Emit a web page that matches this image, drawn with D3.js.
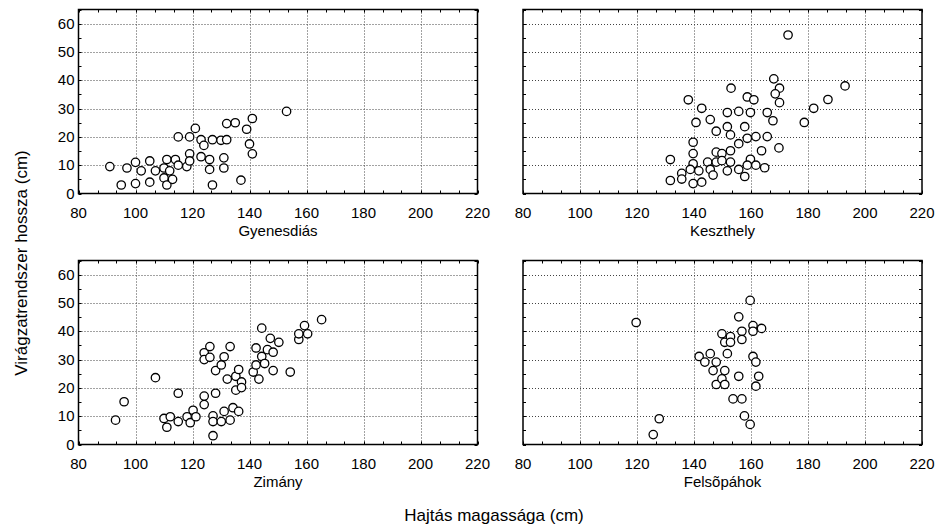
<!DOCTYPE html>
<html>
<head>
<meta charset="utf-8">
<script src="https://cdnjs.cloudflare.com/ajax/libs/d3/7.8.5/d3.min.js"></script>
<style>
  body { margin: 0; background: #fff; }
  svg text { font-family: "Liberation Sans", Arial, sans-serif; fill: #000; }
</style>
</head>
<body>
<script>
// ---------- data: [hajtás magassága, virágzatrendszer hossza] ----------
var gyenesdias = [[91,9.5],[95,3],[97,9],[100,11],[100,3.5],[102,8],[105,11.5],[105,4],[107,8],
  [110,9],[110,5.5],[111,12],[111,3],[112,8],[113,5],[114,12],[115,20],[115,10],[118,9.5],
  [119,20],[119,14],[119,11.5],[121,23],[123,19],[123,13],[124,17],[126,12],[126,8.5],[127,19],
  [127,3],[130,18.8],[131,12.6],[131,9],[132,24.7],[132,19],[135,25],[137,4.7],[139,22.7],
  [140,17.5],[141,26.5],[141,14],[153,29]];

var keszthely = [[173,56],[168,40.5],[170,37.2],[168.5,35.2],[170,32.1],[193,38],[153,37.2],
  [138,33.1],[158.7,34.1],[161,33.1],[142.7,30.1],[187,33.2],[182,30.1],[151.7,28.6],[155.7,29],
  [159.8,28.6],[165.7,28.6],[167.7,25.7],[178.7,25.1],[145.7,26.1],[140.7,25.1],[151.7,23.6],
  [157.8,23.6],[147.8,22],[152.8,20.7],[158.7,19.5],[161.7,20.1],[165.7,20.1],[139.7,18.1],
  [155.7,17.6],[169.8,16.1],[152.8,15.1],[163.7,15.1],[139.7,14.1],[147.8,14.6],[149.8,14.1],
  [131.7,12],[139.7,10.5],[144.8,11.1],[147.8,11.1],[149.8,11.6],[152.8,11.1],[159.8,12.1],
  [158.7,10],[161.7,10],[164.8,9.1],[138.7,8.5],[141.7,8],[145.7,8.5],[151.7,8],[155.7,8.5],
  [135.7,7.1],[146.7,6.5],[157.8,6],[131.7,4.6],[135.7,5.1],[139.7,3.5],[142.7,4]];

var zimany = [[93,8.6],[96,15.1],[107,23.6],[110,9.2],[111,6.1],[112.2,9.8],[115,18.1],[115,8.1],
  [118.1,9.8],[119.2,7.7],[120.2,12.1],[121.2,9.8],[124.1,17.1],[124.1,14.1],[124.1,32.4],
  [124.1,30],[126.1,34.6],[126.1,30.8],[127.2,10.1],[127.2,8.1],[127.2,3.1],[128.1,18.1],
  [128.1,26.1],[130.1,28.1],[130.1,8.1],[131.1,31],[131.1,11.7],[132.2,23.1],[133.2,34.6],
  [133.2,8.6],[134.2,13],[135.2,24.1],[135.2,19.2],[136.2,26.5],[136.2,11.7],[137.2,22.1],
  [137.2,20.1],[141.3,25.6],[142.3,34.1],[142.3,28.1],[143.3,23.1],[144.3,41.1],[144.3,31.1],
  [145.3,28.6],[146.3,33.5],[147.3,37.5],[148.3,32.6],[148.3,26.1],[150.3,36.1],[154.3,25.6],
  [157.3,37.1],[157.3,39.1],[159.3,42],[160.4,39.1],[165.3,44.1]];

var felsopahok = [[119.7,43.1],[125.7,3.5],[127.8,9.1],[141.8,31.1],[143.8,29.1],[145.7,32.1],
  [146.7,26.1],[147.8,29.1],[147.8,21.2],[149.8,39.1],[149.8,23.2],[150.8,36.1],[150.8,26.1],
  [150.8,21.2],[151.7,32.1],[152.8,38.1],[152.8,36.1],[153.7,16.1],[155.7,45.1],[155.7,24.1],
  [156.8,40],[156.8,37.1],[156.8,16.1],[157.7,10.1],[159.7,50.9],[159.7,7.1],[160.7,42],
  [160.7,40],[160.7,31.1],[161.7,29.1],[161.7,20.6],[162.7,24.1],[163.7,41]];

var panelNames = ["Gyenesdiás", "Keszthely", "Zimány", "Felsõpáhok"];
var panelData = [gyenesdias, keszthely, zimany, felsopahok];

var xTicks = [80, 100, 120, 140, 160, 180, 200, 220];
var yTicks = [0, 10, 20, 30, 40, 50, 60];

// ---------- layout ----------
var width = 937, height = 531;
var colLeft = [78.5, 523], rowTop = [9.5, 260.5];
var pw = 399, ph = 184;

var svg = d3.select("body").append("svg")
    .attr("width", width)
    .attr("height", height);

panelData.forEach(function(data, i) {
  var col = i % 2, row = Math.floor(i / 2);
  var x0 = colLeft[col], y0 = rowTop[row];

  var x_scale = d3.scaleLinear().domain([80, 220]).range([x0, x0 + pw]);
  var y_scale = d3.scaleLinear().domain([0, 65]).range([y0 + ph, y0]);

  var g = svg.append("g").attr("class", "panel");

  // dotted grid
  g.selectAll(".gx").data(xTicks.slice(1, -1)).enter().append("line")
    .attr("x1", function(d) { return Math.round(x_scale(d)) + 0.5; })
    .attr("x2", function(d) { return Math.round(x_scale(d)) + 0.5; })
    .attr("y1", y0).attr("y2", y0 + ph)
    .attr("stroke", "#444").attr("stroke-dasharray", "1,2");

  g.selectAll(".gy").data(yTicks.slice(1)).enter().append("line")
    .attr("y1", function(d) { return Math.round(y_scale(d)) + 0.5; })
    .attr("y2", function(d) { return Math.round(y_scale(d)) + 0.5; })
    .attr("x1", x0).attr("x2", x0 + pw)
    .attr("stroke", "#444").attr("stroke-dasharray", "1,2");

  // inward ticks on the frame (minor every 20/3 on x, every 5 on y)
  var xMinor = d3.range(0, 22).map(function(k) { return 80 + k * 20 / 3; });
  g.selectAll(".tx").data(xMinor).enter().append("path")
    .attr("d", function(d) {
      var xx = Math.round(x_scale(d)) + 0.5;
      return "M" + xx + "," + (y0 + ph) + "v-3M" + xx + "," + y0 + "v3";
    })
    .attr("stroke", "#000");

  var yMinor = d3.range(0, 14).map(function(k) { return k * 5; });
  g.selectAll(".ty").data(yMinor).enter().append("path")
    .attr("d", function(d) {
      var yy = Math.round(y_scale(d)) + 0.5;
      return "M" + x0 + "," + yy + "h3M" + (x0 + pw) + "," + yy + "h-3";
    })
    .attr("stroke", "#000");

  // frame
  g.append("rect")
    .attr("x", x0).attr("y", y0).attr("width", pw).attr("height", ph)
    .attr("fill", "none").attr("stroke", "#000").attr("stroke-width", 1.5);

  // points
  g.selectAll(".datapoints").data(data).enter().append("circle")
    .attr("class", "datapoints")
    .attr("cx", function(d) { return x_scale(d[0]); })
    .attr("cy", function(d) { return y_scale(d[1]); })
    .attr("r", 4.2)
    .attr("fill", "#fff")
    .attr("stroke", "#000")
    .attr("stroke-width", 1.3);

  // x tick labels
  g.selectAll(".xl").data(xTicks).enter().append("text")
    .attr("x", function(d) { return x_scale(d); })
    .attr("y", y0 + ph + 24)
    .attr("text-anchor", "middle")
    .style("font-size", "15px")
    .text(function(d) { return d; });

  // y tick labels, left column only
  if (col == 0) {
    g.selectAll(".yl").data(yTicks).enter().append("text")
      .attr("x", x0 - 4)
      .attr("y", function(d) { return y_scale(d) + 5; })
      .attr("text-anchor", "end")
      .style("font-size", "15px")
      .text(function(d) { return d; });
  }

  // panel name
  g.append("text")
    .attr("x", x0 + pw / 2)
    .attr("y", y0 + ph + 42)
    .attr("text-anchor", "middle")
    .style("font-size", "15px")
    .text(panelNames[i]);
});

// axis titles
svg.append("text")
  .attr("x", 494)
  .attr("y", 521)
  .attr("text-anchor", "middle")
  .style("font-size", "17px")
  .text("Hajtás magassága (cm)");

svg.append("text")
  .attr("transform", "translate(27,263) rotate(-90)")
  .attr("text-anchor", "middle")
  .style("font-size", "17px")
  .text("Virágzatrendszer hossza (cm)");
</script>
</body>
</html>
